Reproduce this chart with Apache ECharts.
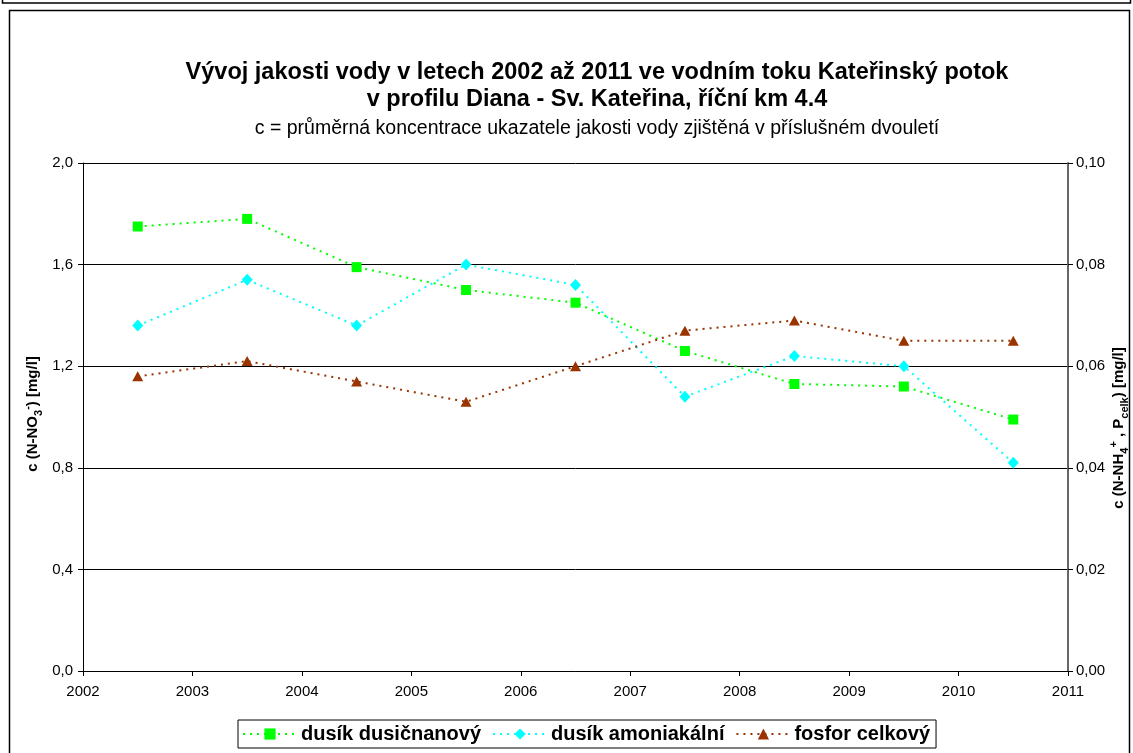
<!DOCTYPE html>
<html>
<head>
<meta charset="utf-8">
<script src="https://cdn.jsdelivr.net/npm/echarts@6/dist/echarts.min.js"></script>
<style>
  html, body { margin: 0; padding: 0; background: #fff; }
  #graf { width: 1133px; height: 753px; }
</style>
</head>
<body>
<div id="graf"></div>
<script>
// středy dvouletí na ose x
const roky = [2002.5, 2003.5, 2004.5, 2005.5, 2006.5, 2007.5, 2008.5, 2009.5, 2010.5]
// dusík dusičnanový - levá osa [mg/l]
const dusicnany = [1.75, 1.78, 1.59, 1.50, 1.45, 1.26, 1.13, 1.12, 0.99]
// dusík amoniakální - pravá osa [mg/l]
const amoniak = [0.068, 0.077, 0.068, 0.080, 0.076, 0.054, 0.062, 0.060, 0.041]
// fosfor celkový - pravá osa [mg/l]
const fosfor = [0.058, 0.061, 0.057, 0.053, 0.060, 0.067, 0.069, 0.065, 0.065]

const font = 'Arial, "Liberation Sans", sans-serif'

const body = (hodnoty) => roky.map((r, i) => [r, hodnoty[i]])

// styly pro popisky os s indexy
const popisek = {
  b: { fontFamily: font, fontSize: 15, fontWeight: 'bold', fill: '#000', lineHeight: 22 },
  s: { fontFamily: font, fontSize: 11, fontWeight: 'bold', fill: '#000', lineHeight: 22, verticalAlign: 'bottom' },
  p: { fontFamily: font, fontSize: 11, fontWeight: 'bold', fill: '#000', lineHeight: 22, verticalAlign: 'top' }
}

// popisky os jako otočený text
const nazevOsy = (text, x, y) => ({
  type: 'text', x: x, y: y, rotation: Math.PI / 2,
  style: { text: text, rich: popisek, align: 'center', verticalAlign: 'middle', fill: '#000' }
})

const chart = echarts.init(document.getElementById('graf'))

const option = {
  animation: false,
  textStyle: { fontFamily: font, color: '#000' },
  title: [
    {
      text: 'Vývoj jakosti vody v letech 2002 až 2011 ve vodním toku Kateřinský potok\nv profilu Diana - Sv. Kateřina, říční km 4.4',
      left: 592, top: 54, textAlign: 'center',
      textStyle: { fontFamily: font, fontSize: 23.5, fontWeight: 'bold', lineHeight: 27, color: '#000' }
    },
    {
      text: 'c = průměrná koncentrace ukazatele jakosti vody zjištěná v příslušném dvouletí',
      left: 592, top: 114, textAlign: 'center',
      textStyle: { fontFamily: font, fontSize: 19.5, fontWeight: 'normal', color: '#000' }
    }
  ],
  graphic: [
    { type: 'rect', shape: { x: 9.5, y: 10.5, width: 1120, height: 750 },
      style: { fill: 'none', stroke: '#000', lineWidth: 1.5 } },
    { type: 'rect', shape: { x: 2.5, y: -10, width: 1128, height: 13 },
      style: { fill: 'none', stroke: '#000', lineWidth: 1.5 } },
    nazevOsy('{b|c (N-NO}{s|3}{p|-}{b|) [mg/l]}', 33, 414),
    nazevOsy('{b|c (N-NH}{s|4}{p|+}{b| , P}{s|celk}{b|) [mg/l]}', 1119, 428)
  ],
  legend: {
    bottom: 5, left: 238,
    itemWidth: 54, itemHeight: 14, itemGap: 11,
    padding: [4, 6, 4, 4],
    borderColor: '#000', borderWidth: 1,
    textStyle: { fontFamily: font, fontSize: 20, fontWeight: 'bold', color: '#000', padding: [0, 0, 0, -1] },
    data: ['dusík dusičnanový', 'dusík amoniakální', 'fosfor celkový']
  },
  grid: { left: 83, right: 65, top: 163, bottom: 82, containLabel: false, outerBoundsMode: 'none' },
  xAxis: {
    type: 'value', min: 2002, max: 2011, interval: 1,
    axisLine: { lineStyle: { color: '#000', width: 1 } },
    axisTick: { show: true, length: 5, lineStyle: { color: '#000' } },
    axisLabel: { color: '#000', fontSize: 15, margin: 13, formatter: v => String(v) },
    splitLine: { show: false }
  },
  yAxis: [
    {
      type: 'value', min: 0, max: 2, interval: 0.4,
      axisLine: { show: true, lineStyle: { color: '#000' } },
      axisTick: { show: true, length: 5, lineStyle: { color: '#000' } },
      axisLabel: { color: '#000', fontSize: 15, margin: 10, formatter: v => v.toFixed(1).replace('.', ',') },
      splitLine: { show: true, lineStyle: { color: '#000', width: 1 } }
    },
    {
      type: 'value', min: 0, max: 0.1, interval: 0.02,
      axisLine: { show: true, lineStyle: { color: '#666', width: 2 } },
      axisTick: { show: true, length: 5, lineStyle: { color: '#000' } },
      axisLabel: { color: '#000', fontSize: 15, margin: 8, formatter: v => v.toFixed(2).replace('.', ',') },
      splitLine: { show: false }
    }
  ],
  series: [
    {
      name: 'dusík dusičnanový', type: 'line', yAxisIndex: 0,
      data: body(dusicnany),
      symbol: 'rect', symbolSize: 10,
      itemStyle: { color: '#00ff00' },
      lineStyle: { color: '#00ff00', width: 2, type: [2, 5] }
    },
    {
      name: 'dusík amoniakální', type: 'line', yAxisIndex: 1,
      data: body(amoniak),
      symbol: 'diamond', symbolSize: [11, 12],
      itemStyle: { color: '#00ffff' },
      lineStyle: { color: '#00ffff', width: 2, type: [2, 5] }
    },
    {
      name: 'fosfor celkový', type: 'line', yAxisIndex: 1,
      data: body(fosfor),
      symbol: 'triangle', symbolSize: [11, 10],
      itemStyle: { color: '#993300' },
      lineStyle: { color: '#993300', width: 2, type: [2, 5] }
    }
  ]
}

chart.setOption(option)
</script>
</body>
</html>
